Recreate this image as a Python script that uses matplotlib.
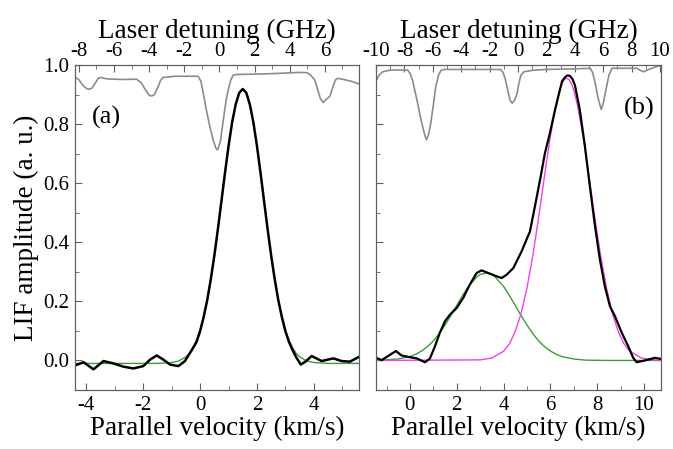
import matplotlib
matplotlib.use("Agg")
import matplotlib.pyplot as plt
from matplotlib.ticker import MultipleLocator

plt.rcParams['font.family'] = ['Liberation Serif', 'DejaVu Serif']
plt.rcParams['axes.unicode_minus'] = False

# ---- panel (a) ----
# absorption reference trace (laser detuning, GHz)
ghz_a = [-8.22, -8.0, -7.75, -7.55, -7.41, -7.25, -7.05, -6.9, -6.75, -6.4, -5.5, -4.71,
         -4.45, -4.2, -4.0, -3.86, -3.7, -3.5, -3.35, -3.2, -2.5, -1.22, -1.05, -0.92, -0.75,
         -0.54, -0.35, -0.2, -0.1, 0.05, 0.22, 0.38, 0.5, 0.65, 0.79, 1.0, 2.6, 3.5, 4.47, 5.0,
         5.2, 5.43, 5.6, 5.75, 5.91, 6.05, 6.29, 6.45, 6.6, 6.73, 7.0, 7.5, 7.94]
trans_a = [0.960, 0.950, 0.930, 0.920, 0.918, 0.922, 0.940, 0.955, 0.958, 0.953, 0.951, 0.952,
           0.940, 0.915, 0.898, 0.895, 0.900, 0.925, 0.948, 0.958, 0.962, 0.962, 0.945, 0.904, 0.850,
           0.790, 0.745, 0.718, 0.713, 0.740, 0.814, 0.880, 0.916, 0.950, 0.966, 0.968, 0.970, 0.972, 0.975, 0.974,
           0.965, 0.949, 0.915, 0.885, 0.873, 0.882, 0.895, 0.925, 0.950, 0.955, 0.952, 0.945, 0.936]

# LIF measurement (parallel velocity, km/s)
vel_a = [-4.39, -4.09, -3.74, -3.39, -3.04, -2.69, -2.34, -1.99, -1.75, -1.52, -1.29, -1.05, -0.76,
         -0.53, -0.29, -0.125, 0.0, 0.125, 0.25, 0.375, 0.5, 0.625, 0.75, 0.875, 1.0, 1.125, 1.25,
         1.375, 1.5, 1.625, 1.75, 1.875, 2.0, 2.125, 2.25, 2.375, 2.5, 2.625, 2.75, 2.875, 3.0,
         3.125, 3.25, 3.38, 3.54, 3.7, 3.92, 4.27, 4.68, 4.97, 5.26, 5.56]
lif_a = [-0.017, -0.006, -0.030, -0.002, -0.010, -0.021, -0.027, -0.019, 0.003, 0.017, 0.003, -0.014, -0.019,
         -0.002, 0.035, 0.062, 0.098, 0.146, 0.203, 0.273, 0.353, 0.443, 0.538, 0.634, 0.725, 0.805, 0.866,
         0.906, 0.919, 0.906, 0.866, 0.805, 0.725, 0.634, 0.538, 0.443, 0.353, 0.273, 0.203, 0.146, 0.098,
         0.062, 0.035, 0.010, -0.014, -0.004, 0.015, -0.002, 0.007, -0.002, -0.004, 0.011]

# fit
fit_vel_a = [-4.39, -1.5, -1.0, -0.75, -0.5, -0.375, -0.25, -0.125, 0.0, 0.125, 0.25, 0.375, 0.5,
             0.625, 0.75, 0.875, 1.0, 1.125, 1.25, 1.375, 1.5, 1.625, 1.75, 1.875, 2.0, 2.125, 2.25,
             2.375, 2.5, 2.625, 2.75, 2.875, 3.0, 3.125, 3.25, 3.375, 3.5, 3.75, 4.0, 4.5, 5.58]
fit_a = [-0.010, -0.010, -0.007, -0.002, 0.012, 0.024, 0.043, 0.068, 0.102, 0.148, 0.204, 0.273, 0.353,
         0.442, 0.537, 0.633, 0.724, 0.803, 0.865, 0.905, 0.918, 0.905, 0.865, 0.803, 0.724, 0.633, 0.537,
         0.442, 0.353, 0.273, 0.204, 0.148, 0.102, 0.068, 0.043, 0.024, 0.012, -0.002, -0.007, -0.010, -0.010]

# ---- panel (b) ----
ghz_b = [-10.0, -9.8, -9.53, -9.0, -7.78, -7.6, -7.43, -7.25, -7.07, -6.9, -6.72, -6.55, -6.44,
         -6.3, -6.14, -5.95, -5.79, -5.6, -5.44, -5.2, -4.0, -2.0, -1.23, -1.05, -0.88, -0.7,
         -0.55, -0.41, -0.25, -0.06, 0.06, 0.2, 0.41, 1.0, 2.0, 4.0, 5.09, 5.25, 5.44, 5.65,
         5.86, 6.0, 6.19, 6.4, 6.61, 7.5, 8.37, 8.6, 8.84, 9.2, 9.9, 10.07]
trans_b = [0.945, 0.965, 0.977, 0.983, 0.983, 0.972, 0.949, 0.910, 0.871, 0.830, 0.792, 0.760, 0.747,
           0.765, 0.803, 0.870, 0.927, 0.965, 0.981, 0.985, 0.985, 0.985, 0.985, 0.975, 0.949, 0.910,
           0.880, 0.871, 0.880, 0.904, 0.938, 0.965, 0.977, 0.982, 0.985, 0.987, 0.989, 0.975, 0.938, 0.885,
           0.850, 0.870, 0.916, 0.965, 0.989, 0.989, 0.989, 0.982, 0.977, 0.985, 0.997, 0.997]

vel_b = [-1.45, -1.21, -0.93, -0.60, -0.36, -0.07, 0.29, 0.64, 0.85, 1.07, 1.28, 1.50, 1.71, 2.0,
         2.28, 2.56, 2.85, 3.06, 3.35, 3.63, 3.92, 4.13, 4.42, 4.77, 5.13, 5.34, 5.56, 5.77, 5.98,
         6.20, 6.41, 6.5, 6.62, 6.73, 6.84, 6.95, 7.05, 7.26, 7.48, 7.69, 7.91, 8.12, 8.33, 8.55,
         8.76, 9.05, 9.33, 9.54, 9.69, 10.04, 10.47, 10.73]
lif_b = [0.009, 0.001, 0.015, 0.032, 0.017, 0.012, 0.007, -0.006, 0.006, 0.048, 0.094, 0.133, 0.155, 0.178,
         0.212, 0.257, 0.296, 0.305, 0.296, 0.287, 0.279, 0.290, 0.313, 0.369, 0.437, 0.521, 0.611, 0.702, 0.769,
         0.848, 0.916, 0.945, 0.958, 0.965, 0.963, 0.952, 0.932, 0.848, 0.724, 0.589, 0.454, 0.341, 0.251, 0.183,
         0.150, 0.094, 0.048, 0.009, -0.006, 0.000, 0.009, 0.005]

# slow component fit (green)
slow_vel = [-1.45, -0.5, 0.0, 0.25, 0.5, 0.75, 1.0, 1.25, 1.5, 1.75, 2.0, 2.25, 2.5, 2.875, 3.0,
            3.25, 3.5, 3.625, 4.0, 4.25, 4.5, 4.75, 5.0, 5.25, 5.5, 5.75, 6.0, 6.25, 6.5, 7.0,
            7.5, 8.5, 10.73]
slow_fit = [0.000, 0.005, 0.013, 0.021, 0.032, 0.047, 0.066, 0.091, 0.120, 0.152, 0.186, 0.220, 0.251, 0.284, 0.291,
            0.296, 0.291, 0.284, 0.251, 0.220, 0.186, 0.152, 0.120, 0.091, 0.066, 0.047, 0.032, 0.021, 0.013, 0.005,
            0.001, 0.000, 0.000]

# fast component fit (magenta)
fast_vel = [-1.45, 3.0, 3.5, 4.0, 4.25, 4.5, 4.75, 5.0, 5.25, 5.5, 5.75, 6.0, 6.25, 6.4, 6.5, 6.6,
            6.7, 6.8, 6.9, 7.0, 7.15, 7.4, 7.65, 7.9, 8.15, 8.4, 8.65, 8.9, 9.15, 9.4, 9.9, 10.4, 10.73]
fast_fit = [0.000, 0.002, 0.008, 0.031, 0.056, 0.098, 0.159, 0.245, 0.354, 0.484, 0.624, 0.758, 0.868, 0.915, 0.937,
            0.951, 0.955, 0.951, 0.937, 0.915, 0.868, 0.758, 0.624, 0.484, 0.354, 0.245, 0.159, 0.098, 0.056, 0.031,
            0.008, 0.002, 0.000]

frame = '#606060'
fig = plt.figure(figsize=(6.73, 4.49), dpi=100)
ax1 = fig.add_axes([0.1114, 0.1314, 0.422, 0.7238])
ax2 = fig.add_axes([0.5587, 0.1314, 0.4235, 0.7238])


def style(ax):
    for s in ax.spines.values():
        s.set_color(frame)
    ax.tick_params(which='both', direction='in', color=frame, labelsize=15, pad=4,
                   top=False, right=False)
    ax.tick_params(which='major', length=5)
    ax.tick_params(which='minor', length=3)


for ax in (ax1, ax2):
    ax.set_ylim(-0.1, 1.0)
    ax.yaxis.set_major_locator(MultipleLocator(0.2))
    ax.yaxis.set_minor_locator(MultipleLocator(0.1))
    ax.xaxis.set_major_locator(MultipleLocator(2))
    ax.xaxis.set_minor_locator(MultipleLocator(1))
    style(ax)
    ax.set_xlabel('Parallel velocity (km/s)', fontsize=19.5, labelpad=1)

ax1.set_xlim(-4.39, 5.58)
ax2.set_xlim(-1.45, 10.73)
ax1.yaxis.set_major_formatter(plt.FormatStrFormatter('%.1f'))
ax2.tick_params(labelleft=False)
ax1.set_ylabel('LIF amplitude (a. u.)', fontsize=19.5, labelpad=3)

ax1.plot(fit_vel_a, fit_a, color='#3c9c3c', lw=1.0, zorder=2)
ax1.plot(vel_a, lif_a, color='black', lw=1.8, zorder=3)
ax2.plot(slow_vel, slow_fit, color='#3c9c3c', lw=1.0, zorder=2)
ax2.plot(fast_vel, fast_fit, color='#f040f0', lw=1.0, zorder=2)
ax2.plot(vel_b, lif_b, color='black', lw=1.6, zorder=3)

# top axes: laser detuning
t1 = ax1.twiny()
t2 = ax2.twiny()
for t in (t1, t2):
    t.xaxis.set_major_locator(MultipleLocator(2))
    t.xaxis.set_minor_locator(MultipleLocator(1))
    for s in t.spines.values():
        s.set_color(frame)
    t.tick_params(which='both', direction='in', color=frame, labelsize=15, pad=3)
    t.tick_params(which='major', length=5)
    t.tick_params(which='minor', length=3)
    t.set_xlabel('Laser detuning (GHz)', fontsize=19.5, labelpad=3)
t1.set_xlim(-8.22, 7.94)
t2.set_xlim(-10.0, 10.07)

t1.plot(ghz_a, trans_a, color='#8c8c8c', lw=1.2)
t2.plot(ghz_b, trans_b, color='#8c8c8c', lw=1.2)

ax1.text(0.06, 0.84, '(a)', transform=ax1.transAxes, fontsize=19, va='center', ha='left')
ax2.text(0.978, 0.865, '(b)', transform=ax2.transAxes, fontsize=19, va='center', ha='right')

fig.savefig('out.png', dpi=100)
